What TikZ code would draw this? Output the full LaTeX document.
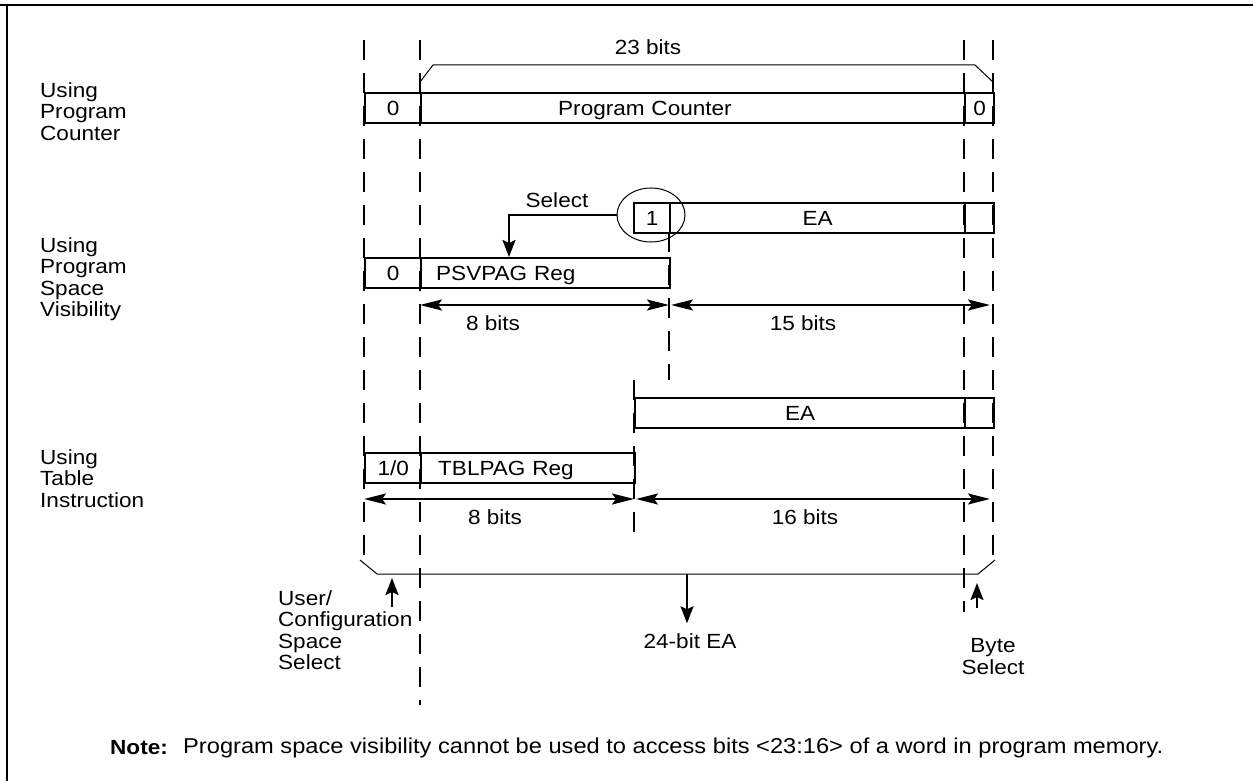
\documentclass[tikz,border=0pt]{standalone}
\usepackage{fontspec}
\setmainfont{Liberation Sans}[FakeStretch=1.1]
\usetikzlibrary{arrows.meta,shapes.geometric}
\tikzset{
  lbl/.style={font=\fontsize{20.5}{21.5}\selectfont, inner sep=0pt, align=left, anchor=north west},
  txt/.style={font=\fontsize{20.5}{22}\selectfont, inner sep=0pt},
  box/.style={draw, line width=2.4pt, minimum height=30pt, anchor=north west, inner sep=0pt,
              text height=14.5pt, text depth=0pt, font=\fontsize{20.5}{22}\selectfont},
  guide/.style={line width=2.2pt, dash pattern=on 20pt off 13pt},
  brace/.style={line width=1pt},
  dimarr/.style={line width=2pt, {Stealth[length=22pt,width=11pt,inset=4pt]}-{Stealth[length=22pt,width=11pt,inset=4pt]}},
  ptr/.style={line width=2pt, -{Stealth[length=17pt,width=13pt,inset=3pt]}},
  frame/.style={line width=2.5pt}
}
\begin{document}
\begin{tikzpicture}[x=1pt,y=-1pt]
\useasboundingbox (0,0) rectangle (1253,781);
% frame
\draw[frame] (0,5) -- (1253,5);
\draw[frame] (7,3.75) -- (7,781);

% dashed guide lines
\draw[guide] (364,40) -- (364,555);
\draw[guide] (420,40) -- (420,705);
\draw[guide] (964,40) -- (964,612);
\draw[guide] (993,40) -- (993,560);
\draw[guide] (669,232) -- (669,380);
\draw[guide] (634,380) -- (634,535);

% 23 bits bracket
\node[txt] (b23) at (648,47) {23 bits};
\coordinate (tb1) at (420,82);
\coordinate (tb2) at (433,65);
\coordinate (tb3) at (975,65);
\coordinate (tb4) at (993,82);
\draw[brace] (tb1) -- (tb2) -- (tb3) -- (tb4);

% Program counter row
\node[lbl] (lpc) at (40,82) {Using\\Program\\Counter};
\node[box, minimum width=56pt] (pc0) at (364,92) {0};
\node[box, inner xsep=137pt, text width=270pt, align=left] (pc) at (420,92) {Program Counter};
\node[box, minimum width=29pt] (pcb) at (964,92) {0};

% PSV row
\node[box, minimum width=36pt] (one) at (633,202) {1};
\node[box, minimum width=295pt] (ea1) at (669,202) {EA};
\node[box, minimum width=29pt] (ea1b) at (964,202) {};
\node[draw, ellipse, line width=1pt, minimum width=68pt, minimum height=54pt, inner sep=0pt] (sel) at (651,215) {};
\node[txt] (sellbl) at (557,200) {Select};
\node[lbl] (lpsv) at (40,237) {Using\\Program\\Space\\Visibility};
\node[box, minimum width=56pt] (psv0) at (364,257) {0};
\node[box, inner xsep=15pt, text width=219pt, align=left] (psv) at (420,257) {PSVPAG Reg};
\coordinate (selc) at (509,215);
\draw[ptr] (sel.west) -- (selc) -- (selc |- psv.north);

\coordinate (d1a) at (420,305);
\coordinate (d1b) at (669,305);
\coordinate (d2a) at (671,305);
\coordinate (d2b) at (990,305);
\draw[dimarr] (d1a) -- (d1b);
\draw[dimarr] (d2a) -- (d2b);
\node[txt] (t8a) at (493,323) {8 bits};
\node[txt] (t15) at (803,323) {15 bits};

% Table row
\node[box, minimum width=330pt] (ea2) at (634,397) {EA};
\node[box, minimum width=29pt] (ea2b) at (964,397) {};
\node[lbl] (ltbl) at (40,449) {Using\\Table\\Instruction};
\node[box, minimum width=56pt] (tbl0) at (364,452) {1/0};
\node[box, inner xsep=17pt, text width=180pt, align=left] (tbl) at (420,452) {TBLPAG Reg};
\coordinate (d3a) at (364,499);
\coordinate (d3b) at (634,499);
\coordinate (d4a) at (636,499);
\coordinate (d4b) at (990,499);
\draw[dimarr] (d3a) -- (d3b);
\draw[dimarr] (d4a) -- (d4b);
\node[txt] (t8b) at (495,517) {8 bits};
\node[txt] (t16) at (805,517) {16 bits};

% bottom bracket
\coordinate (bb1) at (360,560);
\coordinate (bb2) at (377,574);
\coordinate (bb3) at (978,574);
\coordinate (bb4) at (995,560);
\draw[brace] (bb1) -- (bb2) -- (bb3) -- (bb4);
\coordinate (bbm) at (687,574);
\node[txt] (ea24) at (690,641) {24-bit EA};
\draw[ptr] (bbm) -- ([yshift=10pt]ea24.north -| bbm);

\node[lbl] (luser) at (278,590) {User/\\Configuration\\Space\\Select};
\coordinate (ua) at (392,607);
\coordinate (ut) at (392,578);
\draw[ptr] (ua) -- (ut);
\node[txt, align=center, anchor=north] (lbyte) at (993,638) {Byte\\Select};
\coordinate (ba) at (977,608);
\coordinate (bt) at (977,583);
\draw[ptr] (ba) -- (bt);

% note
\node[txt, anchor=west, font=\fontsize{20.5}{24}\bfseries] (note) at (110,748) {Note:};
\node[txt, anchor=west, font=\fontsize{21.5}{24}\selectfont] (notetxt) at (183,748) {Program space visibility cannot be used to access bits <23:16> of a word in program memory.};
\end{tikzpicture}
\end{document}
